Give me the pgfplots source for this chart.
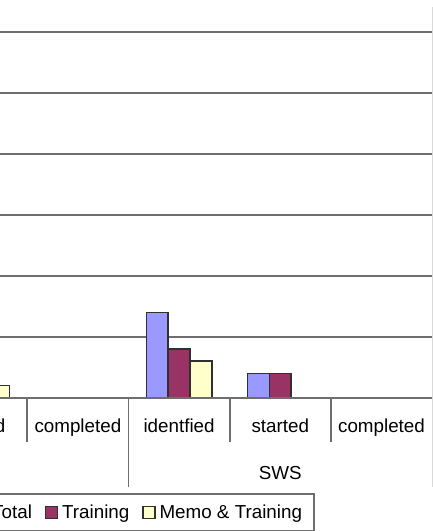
\documentclass[border=0pt]{standalone}
\usepackage{fontspec}
\setmainfont{Liberation Sans}
\usepackage{pgfplots}
\pgfplotsset{compat=1.18}

\definecolor{totalc}{HTML}{9999FF}
\definecolor{trainc}{HTML}{993366}
\definecolor{memoc}{HTML}{FFFFCC}
\definecolor{gridc}{HTML}{6E6E6E}
\definecolor{edgec}{HTML}{303030}

\newcommand{\lbl}{\fontsize{18.8}{22}\selectfont}

\begin{document}
\begin{tikzpicture}[x=1pt,y=1pt]
\begin{axis}[
  at={(0pt,133.3pt)}, anchor=south west,
  scale only axis, width=432.1pt, height=366pt,
  xmin=1.2302, xmax=5.5, ymin=0, ymax=30,
  ybar=0pt, bar width=21.8pt,
  axis line style={draw=none},
  xtick=\empty,
  ytick={5,10,...,30}, yticklabel=\empty,
  major tick length=0pt,
  ymajorgrids, grid style={draw=gridc, line width=2.2pt},
  clip mode=individual,
  every axis plot/.append style={draw=edgec, line width=1.5pt},
  legend columns=-1,
  legend image code/.code={\draw[#1, line width=1.2pt] (0pt,-6pt) rectangle (12pt,6pt);},
  legend style={
    at={(axis description cs:0.729,-0.2604)}, anchor=north east,
    draw=gridc, line width=2pt, fill=white,
    font=\lbl, inner xsep=12pt, inner ysep=11pt,
    nodes={inner sep=0pt},
    /tikz/every odd column/.append style={column sep=4pt},
    /tikz/every even column/.append style={column sep=13pt},
  },
]
% three series over the categories: started (left group), completed,
% then identified, started, completed of SWS; zero values are left out
\addplot[fill=totalc] coordinates {(1,1) (3,7) (4,2)};
\addplot[fill=trainc] coordinates {(3,4) (4,2)};
\addplot[fill=memoc] coordinates {(1,1) (3,3)};
\addlegendentry{Total}
\addlegendentry{Training}
\addlegendentry{Memo \& Training}

% category axis line and separators
\draw[gridc, line width=2.2pt] (axis cs:1.2302,0) -- (axis cs:5.5,0);
\draw[gridc, line width=1.8pt] (axis cs:1.5,0) -- ++(0pt,-44pt);
\draw[gridc, line width=1.8pt] (axis cs:3.5,0) -- ++(0pt,-44pt);
\draw[gridc, line width=1.8pt] (axis cs:4.5,0) -- ++(0pt,-44pt);
\draw[gridc, line width=1.8pt] (axis cs:2.5,0) -- ++(0pt,-89pt);

% category and group labels
\node[anchor=base, font=\lbl, yshift=-35pt] at (axis cs:1,0) {started};
\node[anchor=base, font=\lbl, yshift=-35pt] at (axis cs:2,0) {completed};
\node[anchor=base, font=\lbl, yshift=-35pt] at (axis cs:3,0) {identfied};
\node[anchor=base, font=\lbl, yshift=-35pt] at (axis cs:4,0) {started};
\node[anchor=base, font=\lbl, yshift=-35pt] at (axis cs:5,0) {completed};
\node[anchor=base, font=\lbl, yshift=-82pt] at (axis cs:4,0) {SWS};
\end{axis}
% frame edge on the right
\draw[gray!30, line width=1pt] (432.3,524) -- (432.3,44);
\pgfresetboundingbox
\useasboundingbox (0,0) rectangle (433,531);
\end{tikzpicture}
\end{document}
